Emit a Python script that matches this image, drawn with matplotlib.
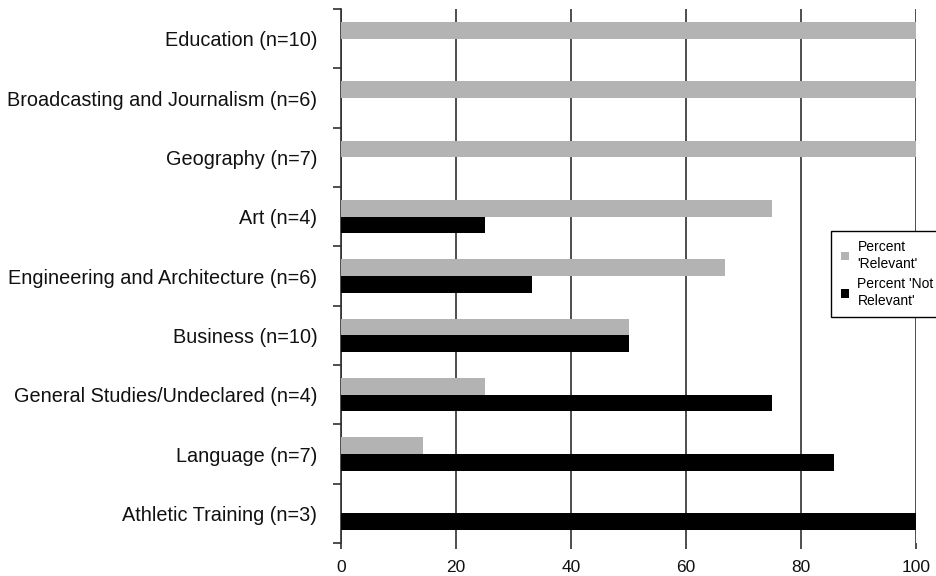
import matplotlib
matplotlib.use("Agg")
import matplotlib.pyplot as plt
import numpy as np

categories = ["Education (n=10)", "Broadcasting and Journalism (n=6)", "Geography (n=7)",
              "Art (n=4)", "Engineering and Architecture (n=6)", "Business (n=10)",
              "General Studies/Undeclared (n=4)", "Language (n=7)", "Athletic Training (n=3)"]
relevant = [100, 100, 100, 75, 66.7, 50, 25, 14.3, 0]
not_relevant = [0, 0, 0, 25, 33.3, 50, 75, 85.7, 100]
xticks = [0, 20, 40, 60, 80, 100]

plt.rcParams['font.family'] = ['Liberation Sans', 'DejaVu Sans']

fig = plt.figure(figsize=(9.37, 5.76), dpi=100)
ax = fig.add_axes([341/937, 1-543/576, (916-341)/937, (543-9)/576])

n = len(categories)
y = np.arange(n)
h = 0.28
ax.barh(y - h/2, relevant, height=h, color='#b3b3b3', label="Percent\n'Relevant'", zorder=3)
ax.barh(y + h/2, not_relevant, height=h, color='#000000', label="Percent 'Not\nRelevant'", zorder=3)

ax.set_ylim(n - 0.5, -0.5)
ax.set_xlim(0, 100)
ax.set_xticks(xticks)
ax.set_xticklabels([str(t) for t in xticks], fontsize=12.5, color='#111111')
ax.set_yticks(y)
ax.set_yticklabels(categories, fontsize=14.3, color='#111111')
ax.tick_params(axis='y', which='major', length=0, pad=17)
ax.set_yticks(np.arange(-0.5, n, 1), minor=True)
ax.tick_params(axis='y', which='minor', length=6, width=1.2, color='#303030', direction='out')
ax.tick_params(axis='x', length=4, width=1.2, color='#303030', pad=8)

ax.xaxis.grid(True, color='#303030', linewidth=1.2, zorder=0)
ax.set_axisbelow(True)
for s in ['top', 'right', 'bottom']:
    ax.spines[s].set_visible(False)
ax.spines['left'].set_color('#303030')
ax.spines['left'].set_linewidth(1.2)

leg = fig.legend(loc='center left', bbox_to_anchor=(831/937, 1-274/576), fontsize=10,
                 frameon=True, fancybox=False, edgecolor='#000000', framealpha=1,
                 handlelength=0.6, handleheight=0.6, labelspacing=0.5, borderpad=0.7,
                 handletextpad=0.6, borderaxespad=0)
leg.get_frame().set_linewidth(1.0)

fig.savefig("out.png", dpi=100)
